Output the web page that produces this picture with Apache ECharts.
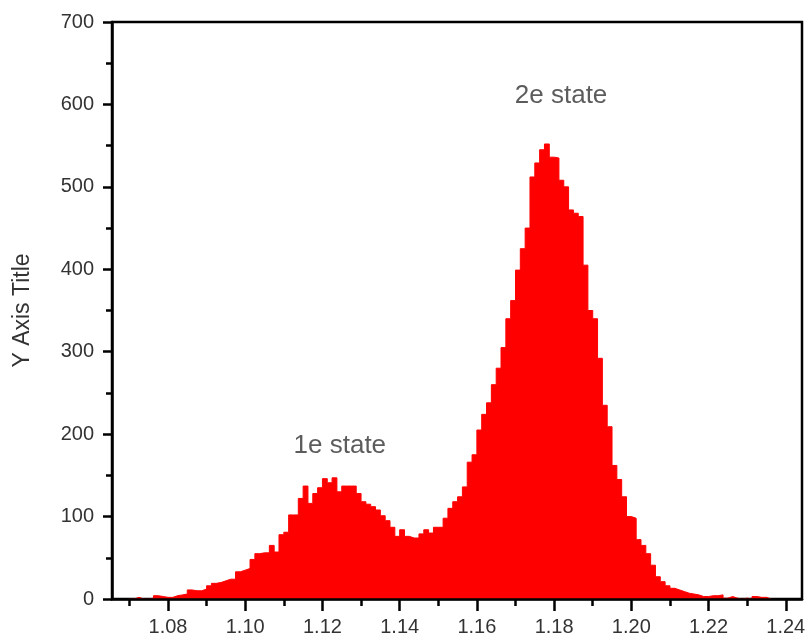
<!DOCTYPE html>
<html>
<head>
<meta charset="utf-8">
<script src="https://cdn.jsdelivr.net/npm/echarts@6/dist/echarts.min.js"></script>
<style>
html,body{margin:0;padding:0;background:#fff;}
#c{width:809px;height:642px;}
</style>
</head>
<body>
<div id="c"></div>
<script>
// Histogram: bins start at binStart, each binWidth wide
var binStart = 1.07;
var binWidth = 0.00125;
var counts = [0,2,0,0,1,4,3,2,2,4,5,6,11,10,10,12,16,19,20,22,24,24,33,35,37,48,55,56,56,65,57,78,81,102,102,122,137,116,128,135,146,141,147,130,137,137,137,128,118,115,112,108,101,95,87,76,84,76,74,74,79,84,80,87,87,98,110,118,124,136,166,175,205,224,238,260,280,305,340,362,399,425,450,512,529,545,552,536,535,508,500,472,468,464,405,350,340,292,235,209,162,145,124,100,98,72,65,55,41,27,21,16,13,11,9,7,6,5,3,3,4,4,5,1,3,1,0,1,0,3,2,2,0];

var xMajorTicks = [1.08,1.10,1.12,1.14,1.16,1.18,1.20,1.22,1.24];
var xMinorTicks = [1.07,1.09,1.11,1.13,1.15,1.17,1.19,1.21,1.23];
var yAxisTitle = 'Y Axis Title';
var annotations = [
  [1.1245, 186, '1e state'],
  [1.1818, 610, '2e state']
];

var stepData = counts.map(function(c, i){ return [binStart + i*binWidth, c]; });
stepData.push([binStart + counts.length*binWidth, 0]);

var FONT = 'Liberation Sans, Arial, sans-serif';
var chart = echarts.init(document.getElementById('c'), null, {renderer:'canvas'});
chart.setOption({
  animation:false,
  backgroundColor:'#fff',
  grid:{left:112,right:7,top:22,bottom:43,show:true,borderColor:'#000',borderWidth:2.5,backgroundColor:'transparent'},
  xAxis:[{
    type:'value', min:1.0655, max:1.2442, z:5,
    axisLine:{show:true,onZero:false,lineStyle:{color:'#000',width:2.5}},
    axisTick:{show:true,inside:false,length:12,customValues:xMajorTicks,lineStyle:{color:'#000',width:2.5}},
    axisLabel:{show:true,customValues:xMajorTicks,margin:18,fontSize:20,color:'#333',fontFamily:FONT,
      formatter:function(v){return v.toFixed(2);}},
    splitLine:{show:false}
  },{
    type:'value', min:1.0655, max:1.2442, position:'bottom', z:5,
    axisLine:{show:false},
    axisTick:{show:true,inside:false,length:7,customValues:xMinorTicks,lineStyle:{color:'#000',width:2.5}},
    axisLabel:{show:false},
    splitLine:{show:false}
  }],
  yAxis:{
    type:'value', min:0, max:700, interval:100, z:5,
    name:yAxisTitle, nameLocation:'middle', nameGap:78, nameRotate:90,
    nameTextStyle:{fontSize:23,color:'#333',fontFamily:FONT},
    axisLine:{show:true,lineStyle:{color:'#000',width:2.5}},
    axisTick:{show:true,inside:false,length:9,lineStyle:{color:'#000',width:2.5}},
    minorTick:{show:true,splitNumber:2,length:6,lineStyle:{color:'#000',width:2.5}},
    axisLabel:{margin:18,fontSize:20,color:'#333',fontFamily:FONT},
    splitLine:{show:false}
  },
  series:[{
    type:'line', step:'end', data:stepData, symbol:'none', z:2,
    lineStyle:{color:'#ff0000',width:1},
    areaStyle:{color:'#ff0000',opacity:1},
    silent:true
  },{
    type:'scatter', data:annotations, symbolSize:0, silent:true, z:3,
    label:{show:true,position:'inside',fontSize:26,color:'#333',fontFamily:FONT,
      formatter:function(p){return p.value[2];}}
  }]
});
</script>
</body>
</html>
